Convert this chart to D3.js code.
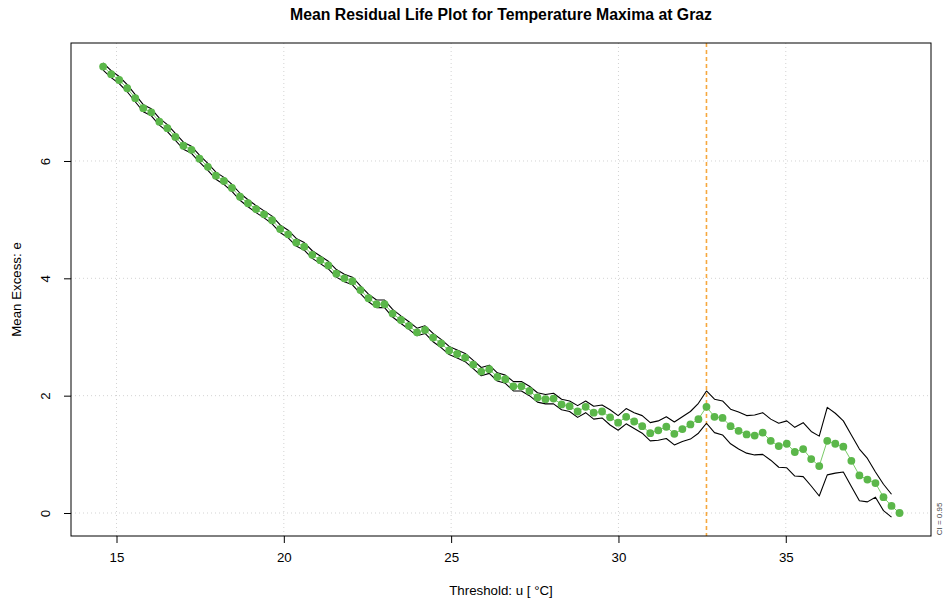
<!DOCTYPE html>
<html>
<head>
<meta charset="utf-8">
<script src="https://cdn.jsdelivr.net/npm/d3@7"></script>
<style>
  body { margin: 0; background: #fff; }
  svg { display: block; font-family: "Liberation Sans", Arial, Helvetica, sans-serif; }
</style>
</head>
<body>
<svg id="mrl"></svg>
<script>
// thresholds u (°C)
const thresholds = [
  14.60, 14.84, 15.08, 15.32, 15.56, 15.80, 16.04, 16.28, 16.52, 16.76,
  17.00, 17.24, 17.48, 17.73, 17.97, 18.21, 18.45, 18.69, 18.93, 19.17,
  19.41, 19.65, 19.89, 20.13, 20.37, 20.61, 20.85, 21.09, 21.33, 21.57,
  21.81, 22.05, 22.29, 22.53, 22.77, 23.01, 23.25, 23.50, 23.74, 23.98,
  24.22, 24.46, 24.70, 24.94, 25.18, 25.42, 25.66, 25.90, 26.14, 26.38,
  26.62, 26.86, 27.10, 27.34, 27.58, 27.82, 28.06, 28.30, 28.54, 28.78,
  29.02, 29.26, 29.51, 29.75, 29.99, 30.23, 30.47, 30.71, 30.95, 31.19,
  31.43, 31.67, 31.91, 32.15, 32.39, 32.63, 32.87, 33.11, 33.35, 33.59,
  33.83, 34.07, 34.31, 34.55, 34.79, 35.03, 35.27, 35.52, 35.76, 36.00,
  36.24, 36.48, 36.72, 36.96, 37.20, 37.44, 37.68, 37.92, 38.16, 38.40
];

// mean excess e(u)
const meanExcess = [
  7.61, 7.48, 7.38, 7.24, 7.07, 6.90, 6.83, 6.67, 6.56, 6.41,
  6.26, 6.19, 6.04, 5.90, 5.75, 5.66, 5.54, 5.39, 5.28, 5.18,
  5.09, 4.99, 4.84, 4.75, 4.61, 4.54, 4.40, 4.31, 4.22, 4.08,
  4.00, 3.95, 3.80, 3.66, 3.56, 3.56, 3.40, 3.29, 3.19, 3.08,
  3.12, 2.99, 2.89, 2.77, 2.71, 2.65, 2.53, 2.41, 2.45, 2.32,
  2.28, 2.16, 2.16, 2.08, 1.97, 1.94, 1.95, 1.85, 1.82, 1.73,
  1.81, 1.71, 1.73, 1.63, 1.54, 1.64, 1.56, 1.48, 1.36, 1.41,
  1.47, 1.35, 1.43, 1.51, 1.60, 1.81, 1.64, 1.62, 1.48, 1.40,
  1.34, 1.32, 1.37, 1.23, 1.14, 1.18, 1.04, 1.09, 0.92, 0.80,
  1.23, 1.18, 1.13, 0.89, 0.64, 0.57, 0.51, 0.27, 0.12, 0.00
];

// 95% confidence bounds (no bound for the last threshold)
const ciUpper = [
  7.67, 7.54, 7.44, 7.30, 7.13, 6.96, 6.89, 6.73, 6.62, 6.47,
  6.32, 6.25, 6.10, 5.96, 5.81, 5.72, 5.60, 5.45, 5.34, 5.24,
  5.15, 5.06, 4.91, 4.82, 4.68, 4.61, 4.47, 4.38, 4.29, 4.15,
  4.07, 4.02, 3.87, 3.73, 3.63, 3.63, 3.47, 3.36, 3.26, 3.15,
  3.19, 3.06, 2.96, 2.84, 2.78, 2.72, 2.60, 2.48, 2.52, 2.39,
  2.35, 2.24, 2.24, 2.16, 2.05, 2.02, 2.04, 1.94, 1.91, 1.83,
  1.91, 1.82, 1.84, 1.76, 1.66, 1.78, 1.71, 1.66, 1.54, 1.57,
  1.64, 1.55, 1.64, 1.73, 1.87, 2.08, 1.94, 1.91, 1.77, 1.72,
  1.66, 1.67, 1.71, 1.60, 1.53, 1.57, 1.46, 1.54, 1.39, 1.31,
  1.80, 1.70, 1.57, 1.33, 1.09, 0.93, 0.70, 0.49, 0.32, null
];
const ciLower = [
  7.55, 7.42, 7.32, 7.18, 7.01, 6.84, 6.77, 6.61, 6.50, 6.35,
  6.20, 6.13, 5.98, 5.84, 5.69, 5.60, 5.48, 5.33, 5.22, 5.12,
  5.03, 4.93, 4.78, 4.69, 4.55, 4.48, 4.34, 4.25, 4.16, 4.02,
  3.94, 3.89, 3.74, 3.60, 3.50, 3.50, 3.34, 3.23, 3.13, 3.02,
  3.06, 2.92, 2.82, 2.70, 2.64, 2.58, 2.46, 2.34, 2.38, 2.25,
  2.21, 2.08, 2.08, 2.00, 1.89, 1.86, 1.86, 1.76, 1.73, 1.63,
  1.71, 1.60, 1.62, 1.50, 1.41, 1.52, 1.44, 1.36, 1.23, 1.24,
  1.27, 1.16, 1.22, 1.26, 1.36, 1.53, 1.37, 1.33, 1.18, 1.09,
  1.02, 0.99, 1.00, 0.90, 0.78, 0.77, 0.63, 0.62, 0.46, 0.29,
  0.65, 0.68, 0.70, 0.45, 0.21, 0.19, 0.27, 0.04, -0.07, null
];

const chosenThreshold = 32.63;
const xTickValues = [15, 20, 25, 30, 35];
const yTickValues = [0, 2, 4, 6];

const title = 'Mean Residual Life Plot for Temperature Maxima at Graz';
const xLabel = 'Threshold: u [ °C]';
const yLabel = 'Mean Excess: e';
const ciLabel = 'CI = 0.95';

function drawMrlPlot(id) {
  const totalWidth = 944;
  const totalHeight = 603;
  const margin = { top: 43, right: 13, bottom: 67, left: 71 };
  const width = totalWidth - margin.left - margin.right;
  const height = totalHeight - margin.top - margin.bottom;
  const POINT_COLOR = '#5bb74a';
  const FONT_SIZE = 13.3;
  const TICK = 7;

  const svg = d3.select(id)
    .attr('width', totalWidth)
    .attr('height', totalHeight);

  const xScale = d3.scaleLinear([13.64, 39.34], [0, width]);
  const yScale = d3.scaleLinear([-0.392, 8.011], [height, 0]);

  const g = svg.append('g')
    .attr('transform', `translate(${margin.left}, ${margin.top})`);

  /* grid */
  g.selectAll('.grid-x')
    .data(xTickValues)
    .enter()
    .append('line')
    .attr('stroke', '#d3d3d3')
    .attr('stroke-dasharray', '1,3')
    .attr('x1', (d) => xScale(d))
    .attr('x2', (d) => xScale(d))
    .attr('y1', 0)
    .attr('y2', height);

  g.selectAll('.grid-y')
    .data(yTickValues)
    .enter()
    .append('line')
    .attr('stroke', '#d3d3d3')
    .attr('stroke-dasharray', '1,3')
    .attr('x1', 0)
    .attr('x2', width)
    .attr('y1', (d) => yScale(d))
    .attr('y2', (d) => yScale(d));

  /* chosen threshold */
  g.append('line')
    .attr('stroke', '#f6a83e')
    .attr('stroke-width', 1.6)
    .attr('stroke-dasharray', '4,3')
    .attr('x1', xScale(chosenThreshold))
    .attr('x2', xScale(chosenThreshold))
    .attr('y1', 0)
    .attr('y2', height);

  /* data */
  const rows = thresholds.map((u, i) => ({
    u,
    e: meanExcess[i],
    lo: ciLower[i],
    hi: ciUpper[i]
  }));
  const withCi = rows.filter((d) => d.hi !== null);

  const lineFor = (key) => d3.line()
    .x((d) => xScale(d.u))
    .y((d) => yScale(d[key]));

  ['hi', 'lo'].forEach((key) => {
    g.append('path')
      .attr('fill', 'none')
      .attr('stroke', '#000')
      .attr('stroke-width', 1.1)
      .attr('stroke-linejoin', 'round')
      .attr('d', lineFor(key)(withCi));
  });

  g.append('path')
    .attr('fill', 'none')
    .attr('stroke', '#7acb68')
    .attr('stroke-width', 1)
    .attr('d', lineFor('e')(rows));

  g.selectAll('.point')
    .data(rows)
    .enter()
    .append('circle')
    .attr('class', 'point')
    .attr('r', 3.9)
    .attr('fill', POINT_COLOR)
    .attr('cx', (d) => xScale(d.u))
    .attr('cy', (d) => yScale(d.e));

  /* box */
  g.append('rect')
    .attr('x', 0)
    .attr('y', 0)
    .attr('width', width)
    .attr('height', height)
    .attr('fill', 'none')
    .attr('stroke', '#000');

  /* axes */
  const bottomAxis = d3.axisBottom(xScale)
    .tickValues(xTickValues)
    .tickSize(TICK)
    .tickPadding(10);
  const xAxisG = g.append('g')
    .attr('transform', `translate(0, ${height})`)
    .call(bottomAxis);
  xAxisG.select('.domain').remove();
  xAxisG.selectAll('text')
    .attr('font-size', FONT_SIZE)
    .attr('font-family', '"Liberation Sans", Arial, sans-serif');

  const leftAxis = d3.axisLeft(yScale)
    .tickValues(yTickValues)
    .tickSize(TICK);
  const yAxisG = g.append('g').call(leftAxis);
  yAxisG.select('.domain').remove();
  yAxisG.selectAll('.tick text')
    .attr('font-size', FONT_SIZE)
    .attr('font-family', '"Liberation Sans", Arial, sans-serif')
    .attr('text-anchor', 'middle')
    .attr('dy', 0)
    .attr('x', 0)
    .attr('transform', 'translate(-21, 0) rotate(-90)');

  /* texts */
  svg.append('text')
    .attr('x', margin.left + width / 2)
    .attr('y', 20)
    .attr('text-anchor', 'middle')
    .attr('font-weight', 'bold')
    .attr('font-size', 15.8)
    .text(title);

  svg.append('text')
    .attr('x', margin.left + width / 2)
    .attr('y', 595)
    .attr('text-anchor', 'middle')
    .attr('font-size', FONT_SIZE)
    .text(xLabel);

  svg.append('text')
    .attr('transform', `translate(21, ${margin.top + height / 2}) rotate(-90)`)
    .attr('text-anchor', 'middle')
    .attr('font-size', FONT_SIZE)
    .text(yLabel);

  svg.append('text')
    .attr('transform', `translate(942, 519) rotate(-90)`)
    .attr('text-anchor', 'middle')
    .attr('font-size', 8)
    .attr('fill', '#444')
    .text(ciLabel);
}

drawMrlPlot('#mrl');
</script>
</body>
</html>
